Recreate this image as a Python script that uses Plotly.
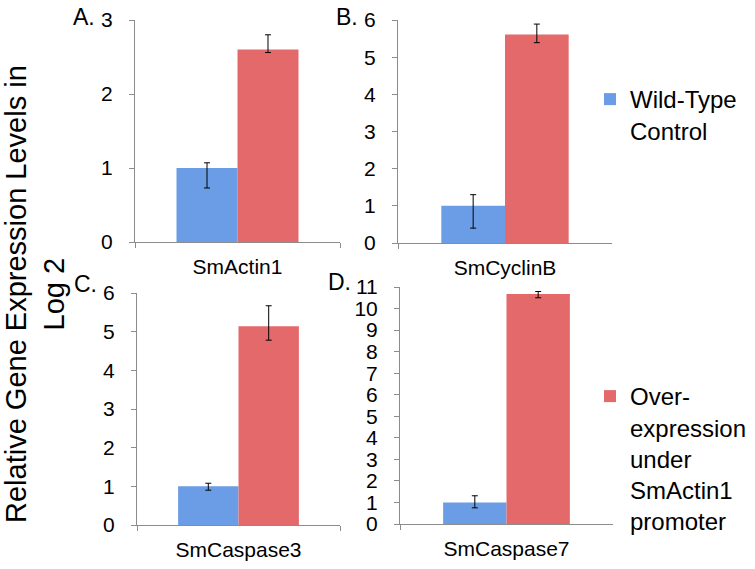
import plotly.graph_objects as go

# ---- data ----
genes = ["SmActin1", "SmCyclinB", "SmCaspase3", "SmCaspase7"]
panel_letters = ["A.", "B.", "C.", "D."]
wt_values = [1.0, 1.0, 1.0, 1.0]
wt_err_plus = [0.07, 0.30, 0.08, 0.31]
wt_err_minus = [0.27, 0.60, 0.10, 0.25]
oe_values = [2.60, 5.61, 5.14, 10.67]
oe_err_plus = [0.20, 0.28, 0.53, 0.12]
oe_err_minus = [0.04, 0.22, 0.36, 0.17]
y_max = [3, 6, 6, 11]
series_names = ["Wild-Type<br>Control", "Over-<br>expression<br>under<br>SmActin1<br>promoter"]
y_title = "Relative Gene Expression Levels in<br>Log 2"

W, H = 755, 569
BLUE = "#6b9de6"
RED = "#e4696a"
AXIS = "#8c8c8c"
FONT = "Liberation Sans, Arial, sans-serif"

# panel plot areas in pixels (left, right, top, bottom)
boxes = [(135, 340, 20, 242), (398, 612, 20, 243), (137, 340, 293, 525), (400, 613, 287, 524)]
letter_dx = [38, 38, 38, 47]
letter_dy = [3, 3, 9, 5]

fig = go.Figure()
layout = dict(
    template="none",
    width=W, height=H, margin=dict(l=0, r=0, t=0, b=0, pad=0, autoexpand=False),
    paper_bgcolor="white", plot_bgcolor="white",
    barmode="group", bargap=0.405, bargroupgap=0,
    font=dict(family=FONT, color="#000000"),
)
annotations = []
for i, g in enumerate(genes):
    s = "" if i == 0 else str(i + 1)
    xa, ya = "x" + s, "y" + s
    fig.add_trace(go.Bar(
        x=[g], y=[wt_values[i]], name=series_names[0], xaxis=xa, yaxis=ya,
        marker=dict(color=BLUE, line=dict(width=0)),
        error_y=dict(type="data", symmetric=False, array=[wt_err_plus[i]], arrayminus=[wt_err_minus[i]],
                     color="#000000", thickness=1, width=3),
        showlegend=(i == 0), legend="legend", legendgroup="wt"))
    fig.add_trace(go.Bar(
        x=[g], y=[oe_values[i]], name=series_names[1], xaxis=xa, yaxis=ya,
        marker=dict(color=RED, line=dict(width=0)),
        error_y=dict(type="data", symmetric=False, array=[oe_err_plus[i]], arrayminus=[oe_err_minus[i]],
                     color="#000000", thickness=1, width=3),
        showlegend=(i == 0), legend="legend2", legendgroup="oe"))
    l, r, t, b = boxes[i]
    layout["xaxis" + s] = dict(
        domain=[l / W, r / W], anchor=ya, showline=True, linecolor=AXIS, linewidth=1,
        ticks="outside", tickson="boundaries", ticklen=5, tickcolor=AXIS, automargin=False,
        ticklabelstandoff=6,
        tickfont=dict(size=21, family=FONT, color="#000000"), showgrid=False, fixedrange=True)
    layout["yaxis" + s] = dict(
        domain=[1 - b / H, 1 - t / H], anchor=xa, range=[0, y_max[i]], dtick=1,
        showline=True, linecolor=AXIS, linewidth=1, ticks="outside", ticklen=5, tickcolor=AXIS,
        automargin=False, ticklabelstandoff=12,
        tickfont=dict(size=21, family=FONT, color="#000000"), showgrid=False, zeroline=False,
        fixedrange=True)
    annotations.append(dict(
        text=panel_letters[i], xref="paper", yref="paper",
        x=(l - letter_dx[i]) / W, y=1 - (t - letter_dy[i]) / H, xanchor="right", yanchor="middle",
        showarrow=False, font=dict(size=23, family=FONT, color="#000000")))

annotations.append(dict(
    text=y_title, xref="paper", yref="paper", x=35 / W, y=1 - 294 / H,
    xanchor="center", yanchor="middle", textangle=-90, showarrow=False,
    font=dict(size=29, family=FONT, color="#000000")))

layout["annotations"] = annotations
layout["legend"] = dict(x=590 / W, y=1 - 77 / H, xanchor="left", yanchor="top",
                        font=dict(size=24, family=FONT, color="#000000"), valign="top",
                        bgcolor="rgba(0,0,0,0)", itemclick=False, itemdoubleclick=False)
layout["legend2"] = dict(x=590 / W, y=1 - 374 / H, xanchor="left", yanchor="top",
                         font=dict(size=24, family=FONT, color="#000000"), valign="top",
                         bgcolor="rgba(0,0,0,0)", itemclick=False, itemdoubleclick=False)
fig.update_layout(**layout)
fig.write_html("out.html", config={"displayModeBar": False},
               post_script="document.body.style.margin='0';")
